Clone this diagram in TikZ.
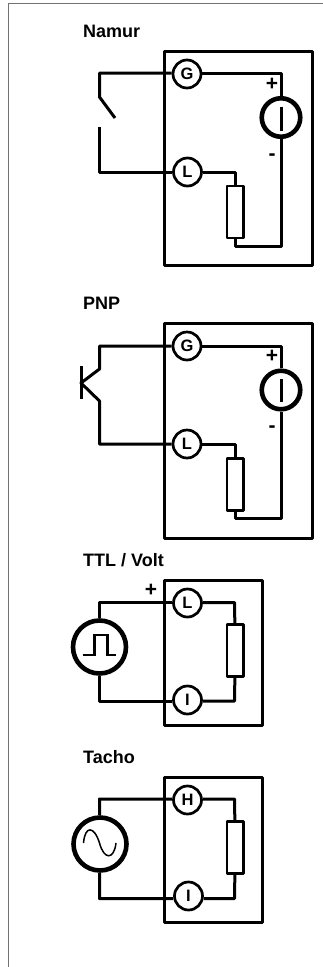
\documentclass[tikz,border=0pt]{standalone}
\usepackage{fontspec}
\setmainfont{Liberation Sans}
\usetikzlibrary{calc}
\tikzset{
  frame/.style={draw=black,line width=3pt,line join=round,rectangle,inner sep=0pt,minimum width=#1},
  wire/.style={line width=3pt,line join=round,black},
  term/.style={circle,draw=black,fill=white,line width=2.7pt,minimum size=28pt,inner sep=0pt,font=\bfseries\fontsize{16.5}{16.5}\selectfont},
  src/.style={circle,draw=black,fill=white,line width=4.6pt,inner sep=0pt},
  res/.style={rectangle,draw=black,fill=white,line width=2.6pt,line join=round,minimum width=16.5pt,minimum height=52pt,inner sep=0pt},
  title/.style={font=\bfseries\fontsize{18}{18}\selectfont,anchor=west,inner sep=0pt},
  sign/.style={font=\bfseries\fontsize{21}{21}\selectfont,inner sep=0pt}
}
\begin{document}
\begin{tikzpicture}[x=1pt,y=-1pt]
\useasboundingbox (0,0) rectangle (323,967);
\draw[line width=1.2pt,color=black!55] (8.5,967) -- (8.5,3.5) -- (323,3.5);
% Namur
\node[title] (t1) at (83,31) {Namur};
\node[frame=148pt,minimum height=214pt] (b1) at (238,158) {};
\node[src,minimum size=38.5pt] (s1) at (281,117.5) {};
\node[res] (r1) at (235.3,212) {};
\coordinate (sw1) at (99.5,97); \coordinate (sw2) at (115,118); \coordinate (sw3) at (99.5,127);
\coordinate (c1a) at (99.5,73); \coordinate (c1b) at (99.5,172);
\coordinate (c1c) at (281,73); \coordinate (c1d) at (235.3,172);
\coordinate (c1e) at (281,246); \coordinate (c1f) at (235.3,246);
\node[term] (g1) at (187,74) {G};
\node[term] (l1) at (187.5,172) {L};
\draw[wire] (g1.west |- c1a) -- (c1a) -- (sw1) -- (sw2);
\draw[wire] (sw3) -- (c1b) -- (l1);
\draw[wire] (g1.east |- c1c) -- (c1c) -- (s1);
\draw[wire] (s1) -- (c1e) -- (c1f) -- (r1);
\draw[wire] (l1) -- (c1d) -- (r1);
\draw[wire] (281,106.5) -- (281,130.5);
\node[sign] (p1) at (272,84.5) {+};
\node[sign] (m1) at (272,157) {-};
% PNP
\node[title] (t2) at (83,303.5) {PNP};
\node[frame=148pt,minimum height=215pt] (b2) at (238,430.5) {};
\node[src,minimum size=38.5pt] (s2) at (281,390) {};
\node[res] (r2) at (235.3,484.5) {};
\coordinate (q1) at (81,366); \coordinate (q2) at (81,399); \coordinate (q3) at (81,383);
\coordinate (q4) at (99.5,369); \coordinate (q5) at (99.5,401);
\coordinate (c2a) at (99.5,346); \coordinate (c2b) at (99.5,444);
\coordinate (c2c) at (281,346); \coordinate (c2d) at (235.3,444);
\coordinate (c2e) at (281,518); \coordinate (c2f) at (235.3,518);
\node[term] (g2) at (187,346) {G};
\node[term] (l2) at (187,444) {L};
\draw[wire] (q1) -- (q2);
\draw[wire] (g2) -- (c2a) -- (q4) -- (q3) -- (q5) -- (c2b) -- (l2);
\draw[wire] (g2) -- (c2c) -- (s2);
\draw[wire] (s2) -- (c2e) -- (c2f) -- (r2);
\draw[wire] (l2) -- (c2d) -- (r2);
\draw[wire] (281,379) -- (281,402);
\node[sign] (p2) at (272,356.5) {+};
\node[sign] (m2) at (272,429.5) {-};
% TTL
\node[title] (t3) at (83,560.5) {TTL / Volt};
\node[frame=98pt,minimum height=145pt] (b3) at (213,652.5) {};
\node[src,minimum size=53pt] (s3) at (99.5,647) {};
\node[res] (r3) at (235.3,650.5) {};
\coordinate (c3a) at (99.5,602.5); \coordinate (c3b) at (99.5,701);
\coordinate (c3c) at (234.5,602.5); \coordinate (c3d) at (234.5,701);
\node[term] (l3) at (187.5,603) {L};
\node[term] (i3) at (187.5,700) {I};
\draw[wire] (l3.west |- c3a) -- (c3a) -- (s3);
\draw[wire] (s3) -- (c3b) -- (i3.west |- c3b);
\draw[wire] (l3.east |- c3c) -- (c3c) -- (r3);
\draw[wire] (r3) -- (c3d) -- (i3.east |- c3d);
\draw[line width=2.5pt,line join=miter] (82.7,655) -- (94.3,655) -- (94.3,635) -- (107.3,635) -- (107.3,655) -- (116,655);
\node[sign] (p3) at (151,590.5) {+};
% Tacho
\node[title] (t4) at (83,757) {Tacho};
\node[frame=98pt,minimum height=145pt] (b4) at (213,849.5) {};
\node[src,minimum size=53pt] (s4) at (100,844) {};
\node[res] (r4) at (235.3,847.5) {};
\coordinate (c4a) at (99.5,799); \coordinate (c4b) at (99.5,898.5);
\coordinate (c4c) at (234.5,799); \coordinate (c4d) at (234.5,898.5);
\node[term] (h4) at (187.5,800) {H};
\node[term] (i4) at (188.5,896) {I};
\draw[wire] (h4.west |- c4a) -- (c4a) -- (s4);
\draw[wire] (s4) -- (c4b) -- (i4.west |- c4b);
\draw[wire] (h4.east |- c4c) -- (c4c) -- (r4);
\draw[wire] (r4) -- (c4d) -- (i4.east |- c4d);
\draw[line width=1.5pt] (83.5,843) .. controls (85,825.5) and (94,825.5) .. (99.5,843) .. controls (104,860) and (114,860) .. (116,843);
\end{tikzpicture}
\end{document}
